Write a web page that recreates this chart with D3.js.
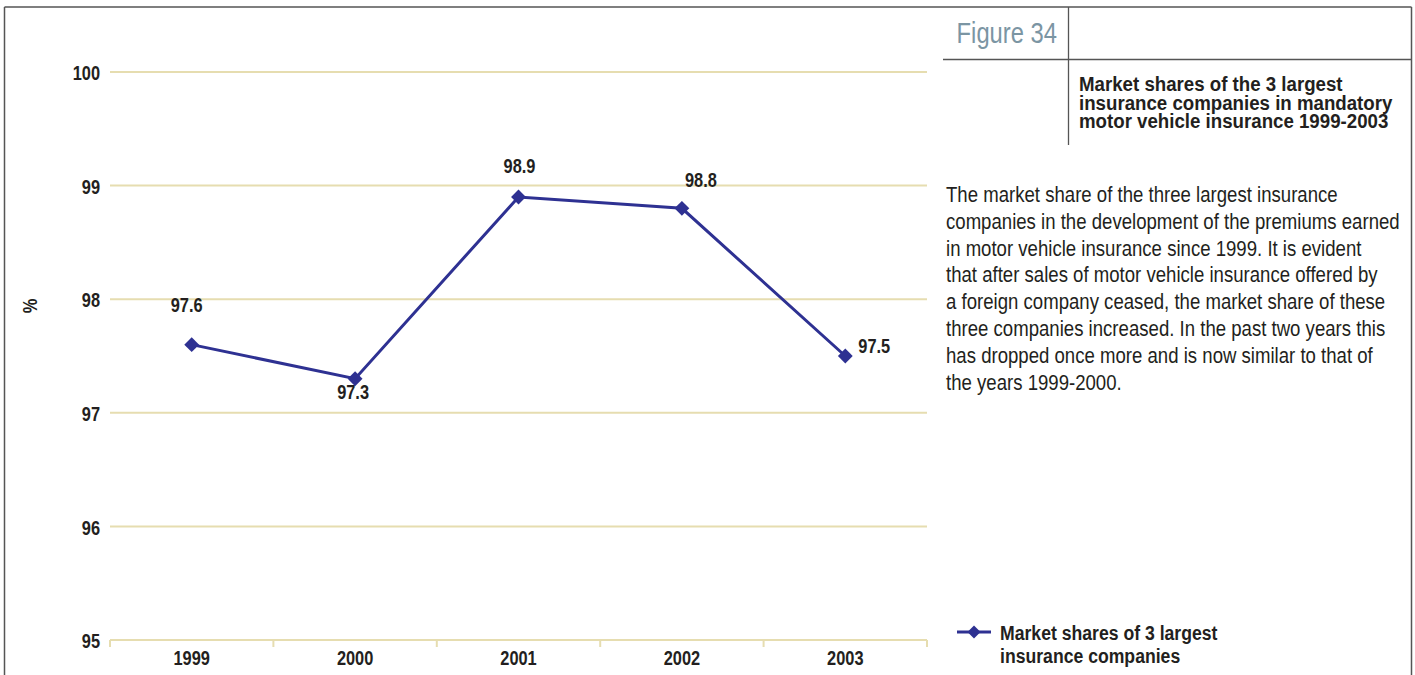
<!DOCTYPE html>
<html>
<head>
<meta charset="utf-8">
<script src="https://cdn.jsdelivr.net/npm/d3@7"></script>
<style>
  html, body { margin: 0; padding: 0; background: #fff; }
  svg { display: block; }
  text { font-family: "Liberation Sans", Arial, sans-serif; fill: #231f20; }
</style>
</head>
<body>
<svg id="chart" width="1415" height="675"></svg>
<script>
// Market share data
const years = ["1999", "2000", "2001", "2002", "2003"];
const shares = [97.6, 97.3, 98.9, 98.8, 97.5];
const yTicks = [95, 96, 97, 98, 99, 100];
const seriesLabel = ["Market shares of 3 largest", "insurance companies"];
const figureLabel = "Figure 34";
const titleLines = [
  "Market shares of the 3 largest",
  "insurance companies in mandatory",
  "motor vehicle insurance 1999-2003"
];
const bodyLines = [
  "The market share of the three largest insurance",
  "companies in the development of the premiums earned",
  "in motor vehicle insurance since 1999. It is evident",
  "that after sales of motor vehicle insurance offered by",
  "a foreign company ceased, the market share of these",
  "three companies increased. In the past two years this",
  "has dropped once more and is now similar to that of",
  "the years 1999-2000."
];

// Layout
const W = 1415, H = 675;
const SX = 0.82; // horizontal squeeze for a condensed look
const plot = { left: 110, right: 927, top: 72, bottom: 640 };
const gridColor = "#e6ddb0";
const lineColor = "#2e3192";
const frameColor = "#555";
// Where each value label sits relative to its marker
const labelOffsets = [
  { dx: -5, dy: -33 },
  { dx: -2, dy: 20 },
  { dx: 1, dy: -24 },
  { dx: 19, dy: -21 },
  { dx: 29, dy: -3 }
];

const svg = d3.select("#chart");

// Condensed text helper: position via translate, squeeze via scale
function ctext(parent, x, y, str, size, weight, anchor, sx) {
  return parent.append("text")
    .attr("transform", `translate(${x},${y}) scale(${sx || SX},1)`)
    .attr("text-anchor", anchor || "start")
    .style("font-size", size + "px")
    .style("font-weight", weight || "normal")
    .text(str);
}

const x = d3.scaleBand().domain(years).range([plot.left, plot.right]).padding(0);
const y = d3.scaleLinear().domain([95, 100]).range([plot.bottom, plot.top]);
const cx = d => x(d) + x.bandwidth() / 2;

// Page frame
svg.append("line").attr("x1", 4.5).attr("x2", 1411.5).attr("y1", 7).attr("y2", 7)
  .attr("stroke", frameColor).attr("stroke-width", 1.3);
svg.append("line").attr("x1", 4.5).attr("x2", 4.5).attr("y1", 7).attr("y2", H)
  .attr("stroke", frameColor).attr("stroke-width", 1.5);
svg.append("line").attr("x1", 1411.5).attr("x2", 1411.5).attr("y1", 7).attr("y2", H)
  .attr("stroke", frameColor).attr("stroke-width", 1.5);

// Figure header rules
svg.append("line").attr("x1", 1068.5).attr("x2", 1068.5).attr("y1", 7).attr("y2", 145)
  .attr("stroke", frameColor).attr("stroke-width", 1.3);
svg.append("line").attr("x1", 943).attr("x2", 1411).attr("y1", 59.5).attr("y2", 59.5)
  .attr("stroke", frameColor).attr("stroke-width", 1.3);

ctext(svg, 1057, 43, figureLabel, 29, "normal", "end").style("fill", "#7b95a3");

const titleG = svg.append("g");
titleLines.forEach((t, i) => ctext(titleG, 1079, 91 + i * 18.5, t, 21, "bold", "start", 0.89));

// Body paragraph, ragged right
const body = svg.append("g");
bodyLines.forEach((t, i) => ctext(body, 946, 202 + i * 26.8, t, 21.5, "normal", "start", 0.865));

// Gridlines
svg.append("g").selectAll("line").data(yTicks).join("line")
  .attr("x1", plot.left).attr("x2", plot.right)
  .attr("y1", d => y(d)).attr("y2", d => y(d))
  .attr("stroke", gridColor).attr("stroke-width", 2);

// Y axis labels
const yAxis = d3.axisLeft(y).tickValues(yTicks).tickSize(0).tickPadding(10).tickFormat(d3.format("d"));
svg.append("g").attr("transform", `translate(${plot.left},0)`).call(yAxis)
  .call(g => g.select(".domain").remove())
  .call(g => g.selectAll("text")
    .attr("x", -10 / SX)
    .attr("transform", `scale(${SX},1)`)
    .style("font-size", "20px").style("font-weight", "bold")
    .style("font-family", "'Liberation Sans', Arial, sans-serif")
    .attr("fill", "#231f20").attr("dy", "0.38em"));

// X axis: ticks between categories
const tickPositions = years.map(d => x(d)).concat([plot.right]);
svg.append("g").selectAll("line").data(tickPositions).join("line")
  .attr("x1", d => d).attr("x2", d => d)
  .attr("y1", plot.bottom).attr("y2", plot.bottom + 7)
  .attr("stroke", gridColor).attr("stroke-width", 2);

const xLab = svg.append("g");
years.forEach(yr => ctext(xLab, cx(yr), 665, yr, 20, "bold", "middle"));

// Axis title
svg.append("text").attr("transform", `translate(37,306) rotate(-90) scale(${SX},1)`)
  .attr("text-anchor", "middle")
  .style("font-size", "20px").style("font-weight", "bold")
  .text("%");

// Series line
const points = years.map((yr, i) => ({ year: yr, value: shares[i] }));
const line = d3.line().x(d => cx(d.year)).y(d => y(d.value));
svg.append("path").datum(points).attr("d", line)
  .attr("fill", "none").attr("stroke", lineColor).attr("stroke-width", 3);

const diamond = d3.symbol().type(d3.symbolSquare).size(110);
svg.append("g").selectAll("path").data(points).join("path")
  .attr("d", diamond)
  .attr("transform", d => `translate(${cx(d.year)},${y(d.value)}) rotate(45)`)
  .attr("fill", lineColor);

// Value labels
const valG = svg.append("g");
points.forEach((d, i) => ctext(valG, cx(d.year) + labelOffsets[i].dx, y(d.value) + labelOffsets[i].dy,
  d3.format(".1f")(d.value), 20, "bold", "middle"));

// Legend
const legend = svg.append("g").attr("transform", "translate(957,632)");
legend.append("line").attr("x1", 0).attr("x2", 34).attr("y1", 0).attr("y2", 0)
  .attr("stroke", lineColor).attr("stroke-width", 3);
legend.append("path").attr("d", d3.symbol().type(d3.symbolSquare).size(85))
  .attr("transform", "translate(17,0) rotate(45)").attr("fill", lineColor);
seriesLabel.forEach((t, i) => ctext(legend, 43, 8 + i * 23, t, 20.5, "bold", "start", 0.86));
</script>
</body>
</html>
